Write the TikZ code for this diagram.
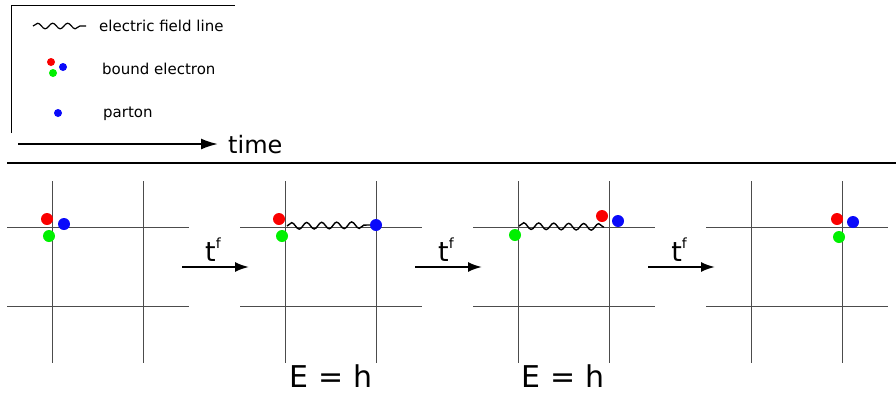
\documentclass[tikz,border=0pt]{standalone}
\usepackage{fontspec}
\setmainfont{DejaVu Sans}
\usetikzlibrary{arrows.meta,decorations.pathmorphing}
\definecolor{qred}{RGB}{250,0,0}
\definecolor{qgreen}{RGB}{0,240,0}
\definecolor{qblue}{RGB}{10,10,250}
\tikzset{
  gridline/.style={draw=black!70, line width=0.8pt},
  dot/.style={circle, inner sep=0pt, minimum size=12pt, fill=#1},
  ldot/.style={circle, inner sep=0pt, minimum size=8pt, fill=#1},
  wave/.style={decorate, decoration={snake, segment length=15pt, amplitude=3.3pt}, line width=1.4pt},
  flow/.style={-{Latex[length=14pt,width=10pt]}, line width=2pt},
  lbl/.style={anchor=base west, inner sep=0pt, font=\fontsize{15}{18}\selectfont},
}
\begin{document}
\begin{tikzpicture}[x=1pt,y=-1pt]
\useasboundingbox (0,0) rectangle (896,392);
% legend box
\draw[line width=1pt] (11,133) -- (11,5) -- (235,5);
\coordinate (lw1) at (33,26);
\coordinate (lw2) at (86,26);
\draw[wave, decoration={segment length=15pt, amplitude=2.8pt}, line width=1.2pt] (lw1) -- (lw2);
\node[lbl] (tx1) at (99,31) {electric field line};
\node[ldot=qred] (lr) at (51,62) {};
\node[ldot=qblue] (lb) at (63,67) {};
\node[ldot=qgreen] (lg) at (53,73) {};
\node[lbl] (tx2) at (102,74) {bound electron};
\node[ldot=qblue] (lp) at (58,113) {};
\node[lbl] (tx3) at (103,117) {parton};
% time arrow
\coordinate (ta) at (18,144);
\coordinate (tb) at (218,144);
\draw[-{Latex[length=17pt,width=11pt]}, line width=2pt] (ta) -- (tb);
\node[anchor=base west, inner sep=0pt, font=\fontsize{24}{27}\selectfont] (time) at (228,153) {time};
% rule
\draw[line width=2.3pt] (7,163) -- (896,163);
% panels
\foreach \x in {52,285,518,751}{
  \draw[gridline] (\x,181) -- (\x,363);
  \draw[gridline] (\x+91,181) -- (\x+91,363);
  \draw[gridline] (\x-45,227) -- (\x+137,227);
  \draw[gridline] (\x-45,306) -- (\x+137,306);
}
% panel 1
\node[dot=qred] (r1) at (47,219) {};
\node[dot=qgreen] (g1) at (49,236) {};
\node[dot=qblue] (b1) at (64,224) {};
% panel 2
\node[dot=qblue] (b2) at (376,225) {};
\coordinate (w2) at (287,226);
\draw[wave] (w2) -- (b2.west);
\node[dot=qred] (r2) at (279,219) {};
\node[dot=qgreen] (g2) at (282,236) {};
% panel 3
\coordinate (w3a) at (519,226);
\coordinate (w3b) at (604,227);
\draw[wave] (w3a) -- (w3b);
\node[dot=qgreen] (g3) at (515,235) {};
\node[dot=qred] (r3) at (602,216) {};
\node[dot=qblue] (b3) at (618,221) {};
% panel 4
\node[dot=qred] (r4) at (837,219) {};
\node[dot=qblue] (b4) at (853,222) {};
\node[dot=qgreen] (g4) at (839,237) {};
% transition arrows
\foreach \a/\n in {182/1,415/2,648/3}{
  \coordinate (s\n) at (\a,267);
  \coordinate (e\n) at (\a+67,267);
  \draw[flow] (s\n) -- (e\n);
  \node[anchor=base, inner sep=0pt, font=\fontsize{27}{29}\selectfont] (tf\n) at (\a+31,261) {t\raisebox{13pt}{\fontsize{14}{14}\selectfont f}};
}
% energy labels
\node[anchor=base, inner sep=0pt, font=\fontsize{30}{33}\selectfont] (E1) at (331,387) {E = h};
\node[anchor=base, inner sep=0pt, font=\fontsize{30}{33}\selectfont] (E2) at (563,387) {E = h};
\end{tikzpicture}
\end{document}
